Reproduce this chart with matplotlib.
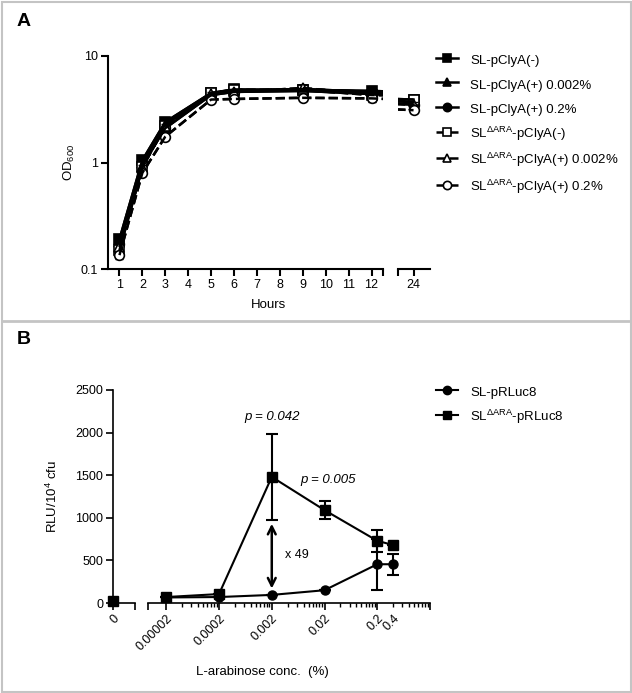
import matplotlib
matplotlib.use('Agg')
import matplotlib.pyplot as plt
import numpy as np
from matplotlib.patches import Rectangle
from matplotlib.lines import Line2D

plt.rcParams['font.family'] = ['Liberation Sans', 'DejaVu Sans']
plt.rcParams['mathtext.fontset'] = 'custom'
plt.rcParams['mathtext.rm'] = 'Liberation Sans'

# ---- panel A data: OD600 growth curves ----
hours = [1, 2, 3, 5, 6, 9, 12, 24]
sl_neg = [0.19, 1.05, 2.4, 4.5, 4.85, 4.8, 4.7, 3.9]
sl_neg_err = [0.01, 0.05, 0.1, 0.2, 0.2, 0.5, 0.5, 0.2]
sl_0002 = [0.18, 1.0, 2.3, 4.4, 4.7, 4.9, 4.6, 3.7]
sl_0002_err = [0.01, 0.05, 0.1, 0.2, 0.2, 0.4, 0.4, 0.2]
sl_02 = [0.17, 0.95, 2.1, 4.3, 4.6, 4.7, 4.4, 3.5]
sl_02_err = [0.01, 0.05, 0.1, 0.2, 0.2, 0.3, 0.3, 0.2]
dara_neg = [0.15, 0.9, 2.2, 4.5, 4.8, 4.8, 4.3, 3.9]
dara_neg_err = [0.01, 0.05, 0.1, 0.2, 0.2, 0.3, 0.5, 0.2]
dara_0002 = [0.16, 0.9, 2.2, 4.4, 4.6, 5.0, 4.4, 3.5]
dara_0002_err = [0.01, 0.05, 0.1, 0.2, 0.2, 0.4, 0.6, 0.2]
dara_02 = [0.135, 0.8, 1.75, 3.9, 3.95, 4.05, 4.0, 3.1]
dara_02_err = [0.01, 0.05, 0.1, 0.2, 0.2, 0.2, 0.3, 0.2]

labels_a = ['SL-pClyA(-)', 'SL-pClyA(+) 0.002%', 'SL-pClyA(+) 0.2%',
            r'SL$^{\mathregular{ΔARA}}$-pClyA(-)',
            r'SL$^{\mathregular{ΔARA}}$-pClyA(+) 0.002%',
            r'SL$^{\mathregular{ΔARA}}$-pClyA(+) 0.2%']

# ---- panel B data: luciferase vs arabinose ----
conc = [2e-5, 2e-4, 2e-3, 2e-2, 0.2, 0.4]
conc_labels = ['0.00002', '0.0002', '0.002', '0.02', '0.2', '0.4']
sl_rluc = [65, 70, 95, 150, 455, 455]
sl_rluc_err = [0, 0, 0, 0, 300, 125]
dara_rluc = [70, 105, 1480, 1090, 730, 680]
dara_rluc_err = [0, 0, 505, 105, 130, 0]
sl_rluc_zero = 20
dara_rluc_zero = 25
labels_b = ['SL-pRLuc8', r'SL$^{\mathregular{ΔARA}}$-pRLuc8']

W, H = 632, 693
fig = plt.figure(figsize=(W / 100, H / 100), dpi=100)


def fx(px):
    return px / W


def fy(py):
    return 1 - py / H


# borders
fig.add_artist(Rectangle((fx(1.5), fy(691.5)), fx(629.5), (690 / H), transform=fig.transFigure,
                         fill=False, edgecolor='#c4c4c4', linewidth=1.5))
fig.add_artist(Line2D([fx(1.5), fx(631)], [fy(321), fy(321)], transform=fig.transFigure,
                      color='#c4c4c4', linewidth=2))

fig.text(fx(17), fy(22), 'A', fontsize=14, fontweight='bold', va='center')
fig.text(fx(17), fy(340), 'B', fontsize=14, fontweight='bold', va='center')

# ---- panel A ----
a_bot, a_top = 269, 56
axA1 = fig.add_axes([fx(108), fy(a_bot), fx(383 - 108), (a_bot - a_top) / H])
axA2 = fig.add_axes([fx(398), fy(a_bot), fx(430 - 398), (a_bot - a_top) / H], sharey=axA1)

series_a = [
    (sl_neg, sl_neg_err, 's', 'black', '-'),
    (sl_0002, sl_0002_err, '^', 'black', '-'),
    (sl_02, sl_02_err, 'o', 'black', '-'),
    (dara_neg, dara_neg_err, 's', 'white', '--'),
    (dara_0002, dara_0002_err, '^', 'white', '--'),
    (dara_02, dara_02_err, 'o', 'white', '--'),
]
handles = []
for ax in (axA1, axA2):
    for (vals, err, mk, fc, ls), lab in zip(series_a, labels_a):
        ax.errorbar(hours, vals, yerr=err, color='black', ecolor='black', elinewidth=1,
                    capsize=3, capthick=1, linewidth=1.8, linestyle=ls)
        h, = ax.plot(hours, vals, marker=mk, markersize=7, markerfacecolor=fc,
                     markeredgecolor='black', markeredgewidth=1.2, color='black',
                     linewidth=1.8, linestyle=ls, label=lab)
        if ax is axA1:
            handles.append(h)

axA1.set_yscale('log')
axA1.set_ylim(0.1, 10)
axA1.set_yticks([0.1, 1, 10])
axA1.set_yticklabels(['0.1', '1', '10'])
axA1.yaxis.set_minor_locator(matplotlib.ticker.NullLocator())
axA1.set_xlim(0.5, 12.5)
axA1.set_xticks(list(range(1, 13)) + [12.5])
axA1.set_xticklabels([str(i) for i in range(1, 13)] + [''])
axA2.set_xlim(23.32, 24.72)
axA2.set_xticks([23.32, 24])
axA2.set_xticklabels(['', '24'])
axA2.tick_params(axis='y', left=False, labelleft=False)
for ax in (axA1, axA2):
    for s in ('top', 'right'):
        ax.spines[s].set_visible(False)
    ax.spines['left'].set_linewidth(1.5)
    ax.spines['bottom'].set_linewidth(1.5)
    ax.tick_params(width=1.5, length=5, labelsize=9, pad=2)
axA2.spines['left'].set_visible(False)
axA1.set_ylabel(r'OD$_{\mathregular{600}}$', fontsize=9.5, labelpad=3)
fig.text(fx(268), fy(305), 'Hours', fontsize=9.5, ha='center', va='center')

fig.legend(handles=handles, loc='upper left', bbox_to_anchor=(fx(436), fy(52)),
           frameon=False, fontsize=9.5, handlelength=1.7, handletextpad=0.9,
           handleheight=1.5, labelspacing=0.62, markerscale=0.85,
           borderpad=0, borderaxespad=0)

# ---- panel B ----
b_bot, b_top = 603, 390
axB1 = fig.add_axes([fx(113), fy(b_bot), fx(135 - 113), (b_bot - b_top) / H])
axB2 = fig.add_axes([fx(148), fy(b_bot), fx(430 - 148), (b_bot - b_top) / H], sharey=axB1)

axB1.plot([0], [sl_rluc_zero], marker='o', markersize=6.5, color='black', clip_on=False)
axB1.plot([0], [dara_rluc_zero], marker='s', markersize=6.5, color='black', clip_on=False)
axB1.set_xlim(0, 1)
axB1.set_xticks([0, 1])
axB1.set_xticklabels(['0', ''])

axB2.errorbar(conc, sl_rluc, yerr=sl_rluc_err, color='black', marker='o', markersize=6.5,
              linewidth=1.5, elinewidth=1.5, capsize=4, capthick=1.5)
axB2.errorbar(conc, dara_rluc, yerr=dara_rluc_err, color='black', marker='s', markersize=6.5,
              linewidth=1.5, elinewidth=1.5, capsize=4, capthick=1.5)
axB2.set_xscale('log')
axB2.set_xlim(9e-6, 2.0)
axB2.set_xticks([9e-6] + conc[:5] + [2.0])
axB2.set_xticklabels([''] + conc_labels[:5] + [''])
minor = [c * k for c in conc[:5] for k in range(2, 10)]
axB2.set_xticks(minor, minor=True)
axB2.set_xticklabels(['0.4' if abs(m - conc[5]) < 1e-9 else '' for m in minor], minor=True)
axB1.set_ylim(0, 2500)
axB1.set_yticks([0, 500, 1000, 1500, 2000, 2500])
axB2.tick_params(axis='y', left=False, labelleft=False)
for ax in (axB1, axB2):
    for s in ('top', 'right'):
        ax.spines[s].set_visible(False)
    ax.spines['left'].set_linewidth(1.2)
    ax.spines['bottom'].set_linewidth(1.2)
    ax.tick_params(which='major', width=1.2, length=5, labelsize=9, pad=2)
    ax.tick_params(which='minor', width=1.0, length=3, labelsize=9, pad=2)
    for lab in ax.get_xticklabels(which='both'):
        lab.set_rotation(45)
        lab.set_ha('right')
        lab.set_va('top')
        lab.set_rotation_mode('anchor')
axB2.tick_params(axis='x', which='minor', pad=4)
axB2.spines['left'].set_visible(False)
axB1.set_ylabel(r'RLU/10$^{\mathregular{4}}$ cfu', fontsize=9.5, labelpad=11)
fig.text(fx(262), fy(672), 'L-arabinose conc.  (%)', fontsize=9.5, ha='center', va='center')

axB2.text(2e-3, 2180, 'p = 0.042', fontsize=9.5, style='italic', ha='center', va='center')
axB2.text(2.3e-2, 1445, 'p = 0.005', fontsize=9.5, style='italic', ha='center', va='center')
axB2.annotate('', xy=(2e-3, 170), xytext=(2e-3, 930),
              arrowprops=dict(arrowstyle='<->', color='black', lw=1.8,
                              mutation_scale=14, shrinkA=0, shrinkB=0))
axB2.text(3.6e-3, 560, 'x 49', fontsize=9, ha='left', va='center')

handles_b = [Line2D([], [], color='black', marker='o', markersize=6, linewidth=1.5),
             Line2D([], [], color='black', marker='s', markersize=6, linewidth=1.5)]
fig.legend(handles=handles_b, labels=labels_b, loc='upper left',
           bbox_to_anchor=(fx(436), fy(384)), frameon=False, fontsize=9.5,
           handlelength=1.7, handletextpad=0.9, handleheight=1.5, labelspacing=0.62,
           borderpad=0, borderaxespad=0)

fig.savefig('out.png', dpi=100)
